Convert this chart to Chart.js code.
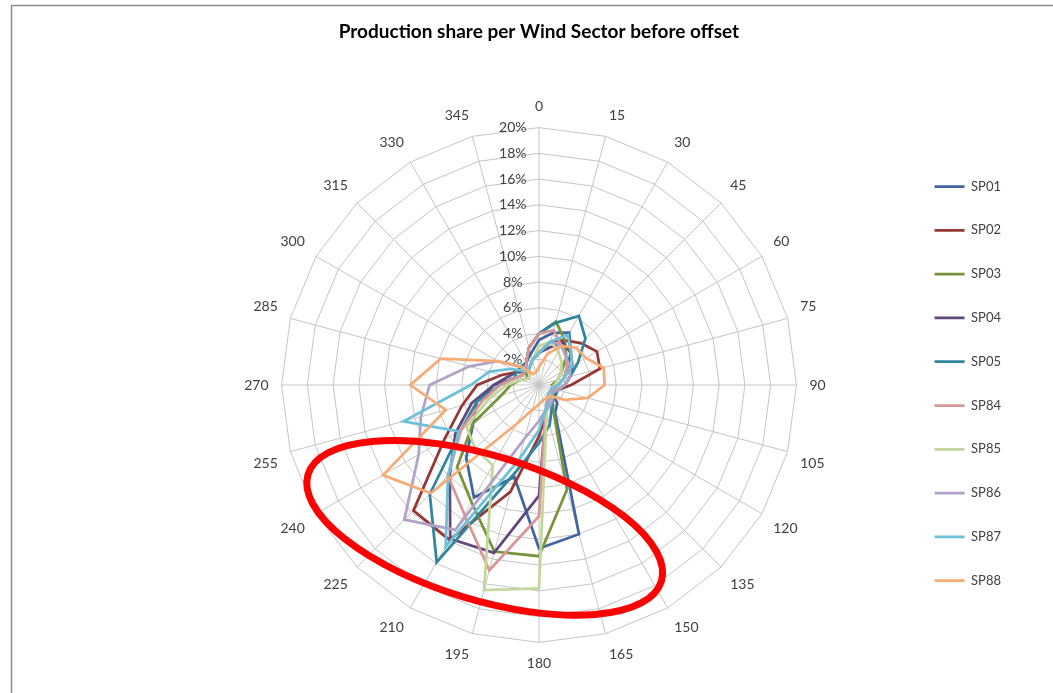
<!DOCTYPE html>
<html>
<head>
<meta charset="utf-8">
<script src="https://cdn.jsdelivr.net/npm/chart.js@4/dist/chart.umd.min.js"></script>
<style>
  html, body { margin: 0; padding: 0; background: #fff; }
  .container_chart { position: relative; width: 1053px; height: 693px; }
</style>
</head>
<body>
<div class="container_chart">
  <canvas id="myChart"></canvas>
</div>
<script>
// wind sectors (degrees)
const sectors = ['0', '15', '30', '45', '60', '75', '90', '105', '120', '135', '150', '165',
                 '180', '195', '210', '225', '240', '255', '270', '285', '300', '315', '330', '345'];

// radial tick labels, 0% .. 20%
const tickLabels = ['0%', '2%', '4%', '6%', '8%', '10%', '12%', '14%', '16%', '18%', '20%'];

// production share per sector (%)
const sp01 = [3.5, 4.2, 4.7, 3.5, 2.5, 2, 1.5, 1, 1.2, 2, 2.5, 12, 12.7, 7.4, 10.1, 8, 5.9, 5, 3.5, 2, 1.5, 1.5, 2, 2.5];
const sp02 = [2.5, 3.5, 4, 4.6, 5.2, 4.9, 2.5, 1.5, 1.2, 1.2, 1.5, 2.2, 4, 8.6, 13.9, 13.8, 8.5, 6.2, 4.8, 3, 2, 1.5, 1.5, 2];
const sp03 = [4, 5.1, 4, 3, 2, 1.5, 1, 1.2, 1.5, 1.5, 2.2, 8.4, 13.3, 13.4, 10.5, 9, 5.9, 3, 2.2, 1.5, 1, 1.5, 2, 3];
const sp04 = [2.5, 3, 3.8, 3.5, 3, 2.5, 2, 1.5, 1.5, 1.2, 1.3, 2.1, 8.6, 13.5, 13.8, 9.8, 7.5, 5.4, 3.5, 2.5, 2, 1.5, 1.5, 2];
const sp05 = [4, 5, 6.2, 5.1, 3.5, 2.5, 2, 1.5, 1.5, 1.5, 2, 3.2, 4.5, 7, 15.9, 12, 7, 5, 3, 2, 2, 2, 2, 3];
const sp84 = [4, 4.4, 3.5, 3, 2.5, 2, 1.5, 1.2, 1, 1, 1.3, 2, 10.2, 14.9, 11.6, 10, 7, 4.5, 3, 2, 1.5, 1.5, 2, 3];
const sp85 = [3, 3.5, 3, 2.5, 2, 1.5, 1.2, 1, 1, 1.2, 1.5, 2.3, 15.8, 16.5, 7.2, 7, 6.5, 4, 2.5, 1.5, 1, 1, 1.5, 2];
const sp86 = [2.5, 3.5, 3.5, 3, 2.8, 2.5, 2, 1.5, 1.2, 1.5, 1.8, 2, 2.8, 4.3, 13, 14.8, 10.8, 9.5, 8.5, 5.6, 3.7, 2, 1.5, 2];
const sp87 = [2.5, 3.5, 4.5, 3.5, 3, 2, 1.5, 1, 1, 1, 1.5, 2, 3.5, 6, 14.5, 10, 7.2, 10.9, 5.3, 4, 2.5, 1.5, 1.5, 2];
const sp88 = [1.4, 2.5, 3.5, 4.1, 4.2, 5.2, 5.1, 3.9, 2.3, 1.2, 1.2, 1.2, 1.5, 2, 3.5, 11.9, 14, 7.5, 10, 7.9, 3.7, 2, 1, 1];

const seriesNames = ['SP01', 'SP02', 'SP03', 'SP04', 'SP05', 'SP84', 'SP85', 'SP86', 'SP87', 'SP88'];
const seriesValues = [sp01, sp02, sp03, sp04, sp05, sp84, sp85, sp86, sp87, sp88];
const seriesColors = ['#3f66a0', '#953735', '#77933c', '#604a7b', '#31859c',
                      '#d99694', '#c3d69b', '#b3a2c7', '#6cc0d8', '#f7ab74'];

const textColor = '#404040';
const gridColor = '#c4c4c4';

// frame of the excel chart area (top and left edge)
const frame = {
    id: 'frame',
    beforeDraw(chart) {
        const ctx = chart.ctx;
        ctx.save();
        ctx.strokeStyle = '#8c8c8c';
        ctx.lineWidth = 1.5;
        ctx.beginPath();
        ctx.moveTo(11.5, chart.height);
        ctx.lineTo(11.5, 5.5);
        ctx.lineTo(chart.width, 5.5);
        ctx.stroke();
        ctx.restore();
    }
};

// red ellipse drawn on top, placed relative to the radial scale
const redEllipse = {
    id: 'redEllipse',
    afterDraw(chart) {
        const r = chart.scales.r;
        const R = r.drawingArea;
        const ctx = chart.ctx;
        ctx.save();
        ctx.strokeStyle = '#ff0000';
        ctx.lineWidth = 7;
        ctx.beginPath();
        ctx.ellipse(r.xCenter - 0.211 * R, r.yCenter + 0.555 * R, 0.717 * R, 0.281 * R,
                    16.8 * Math.PI / 180, 0, 2 * Math.PI);
        ctx.stroke();
        ctx.restore();
    }
};

const ctx = document.getElementById('myChart');
const myChart = new Chart(ctx, {
    type: 'radar',
    data: {
        labels: sectors,
        datasets: seriesNames.map((name, i) => ({
            label: name,
            data: seriesValues[i],
            borderColor: seriesColors[i],
            backgroundColor: seriesColors[i],
            borderWidth: 2.75,
            fill: false,
            pointRadius: 0,
            pointHoverRadius: 0,
            tension: 0,
            order: seriesNames.length - i
        }))
    },
    options: {
        responsive: true,
        maintainAspectRatio: false,
        animation: false,
        layout: {
            padding: { left: 176, right: 42, top: 0, bottom: 19 }
        },
        scales: {
            r: {
                min: 0,
                max: 20,
                startAngle: 0,
                ticks: {
                    stepSize: 2,
                    color: textColor,
                    showLabelBackdrop: false,
                    font: { family: 'Lato', size: 14 },
                    callback: function (value, index) {
                        return tickLabels[index] + '\u2003\u2003\u2003\u2003\u2003';
                    }
                },
                grid: { color: gridColor, lineWidth: 1 },
                angleLines: { color: gridColor, lineWidth: 1 },
                pointLabels: {
                    color: textColor,
                    padding: 4,
                    font: { family: 'Lato', size: 14 }
                }
            }
        },
        plugins: {
            title: {
                display: true,
                // trailing spaces keep the title centred over the radar, not the legend
                text: 'Production share per Wind Sector before offset\u2003\u2003\u2003\u2003\u2003\u2003\u2003\u2002',
                color: '#000',
                font: { family: 'Lato', size: 19, weight: 'bold' },
                padding: { top: 20, bottom: 55 }
            },
            legend: {
                position: 'right',
                title: {
                    display: true,
                    text: ' ',
                    font: { size: 12 },
                    padding: { top: 78.8, bottom: 0 }
                },
                labels: {
                    usePointStyle: true,
                    pointStyle: 'line',
                    pointStyleWidth: 30,
                    padding: 30.8,
                    color: textColor,
                    font: { family: 'Lato', size: 13 },
                    sort: (a, b) => a.datasetIndex - b.datasetIndex
                }
            },
            tooltip: { enabled: false }
        }
    },
    plugins: [frame, redEllipse]
});
</script>
</body>
</html>
